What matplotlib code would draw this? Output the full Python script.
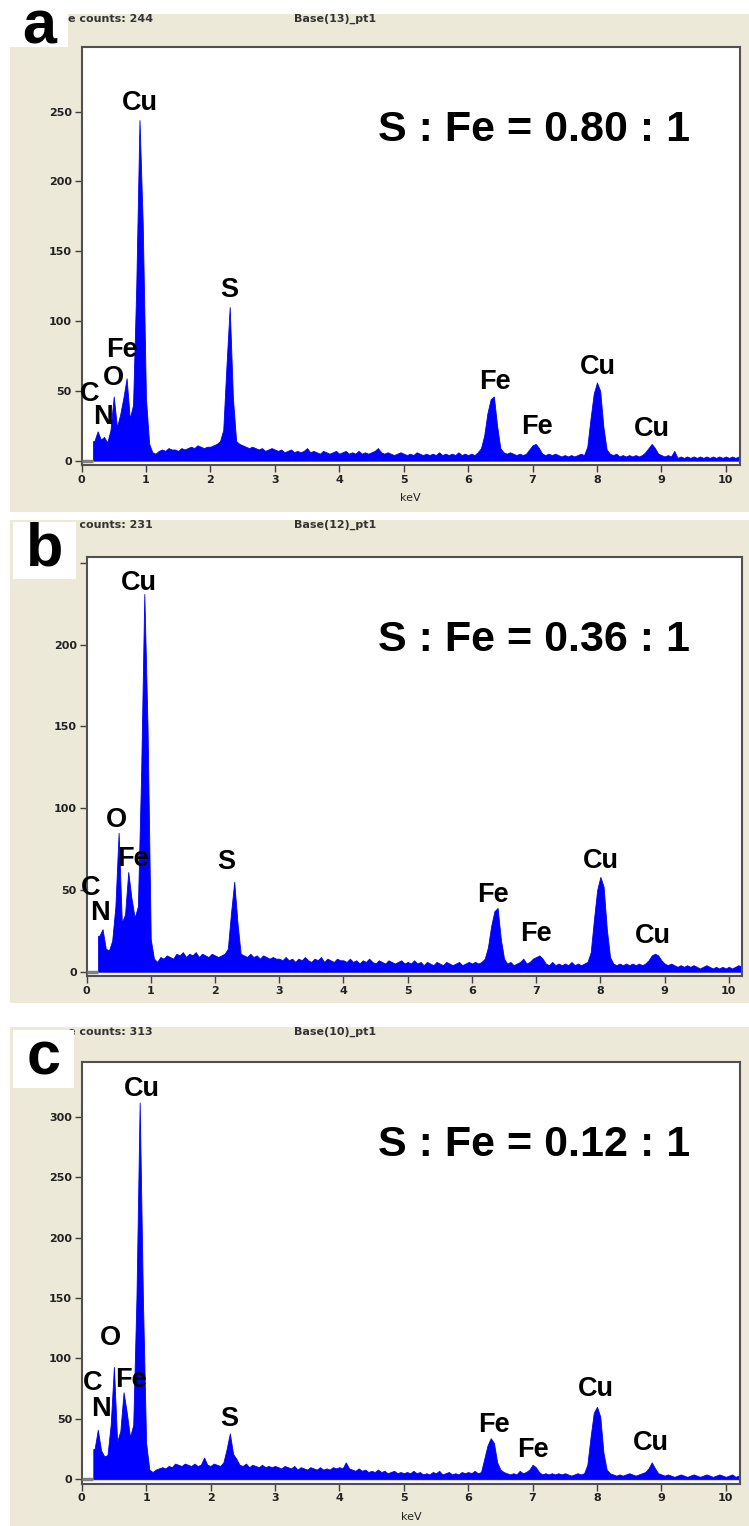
import numpy as np
import matplotlib
matplotlib.use("Agg")
import matplotlib.pyplot as plt
from matplotlib.patches import Rectangle

# EDS spectra, counts per 0.05 keV channel, 0.00 - 10.20 keV
energy_kev = np.round(np.arange(205) * 0.05, 2)

counts_a = [
    0, 0, 0, 0, 14, 21, 15, 17, 13, 22, 46, 24, 33, 45, 59, 30, 40, 125, 244, 170,
    45, 12, 6, 5, 7, 8, 7, 9, 8, 8, 7, 9, 8, 9, 10, 9, 11, 10, 9, 10,
    10, 11, 12, 14, 22, 68, 110, 45, 14, 12, 11, 10, 9, 10, 9, 8, 9, 7, 8, 9,
    8, 7, 8, 6, 7, 8, 6, 7, 6, 7, 9, 6, 7, 6, 5, 7, 6, 5, 6, 7,
    5, 6, 7, 5, 6, 5, 7, 5, 6, 5, 6, 7, 9, 6, 5, 6, 5, 4, 5, 6,
    5, 4, 5, 4, 6, 5, 4, 5, 4, 5, 4, 6, 4, 5, 4, 5, 4, 6, 4, 5,
    4, 5, 4, 6, 9, 18, 34, 44, 46, 25, 9, 6, 5, 6, 5, 4, 5, 4, 5, 8,
    11, 12, 9, 5, 4, 5, 4, 5, 4, 3, 4, 3, 4, 3, 4, 5, 4, 10, 30, 48,
    56, 50, 24, 8, 5, 4, 5, 3, 4, 3, 4, 3, 4, 3, 4, 6, 9, 12, 9, 5,
    4, 3, 4, 3, 7, 2, 3, 2, 3, 2, 3, 2, 3, 2, 3, 2, 3, 2, 3, 2,
    3, 2, 3, 2, 3,
]
counts_b = [
    0, 0, 0, 0, 22, 26, 14, 13, 19, 40, 85, 30, 35, 61, 45, 33, 40, 120, 231, 150,
    20, 8, 6, 9, 8, 10, 9, 8, 11, 10, 12, 9, 11, 10, 12, 9, 11, 10, 9, 11,
    10, 9, 10, 11, 14, 36, 55, 30, 11, 10, 9, 11, 9, 10, 8, 10, 9, 8, 9, 8,
    8, 7, 9, 7, 8, 6, 8, 7, 9, 7, 6, 8, 7, 9, 6, 8, 7, 6, 8, 7,
    7, 6, 8, 6, 7, 5, 7, 6, 8, 6, 5, 7, 6, 5, 7, 6, 5, 6, 7, 5,
    6, 5, 7, 5, 6, 4, 6, 5, 4, 6, 5, 4, 6, 5, 4, 5, 6, 4, 5, 6,
    5, 6, 5, 6, 8, 15, 28, 37, 39, 20, 8, 5, 6, 4, 5, 6, 8, 5, 6, 8,
    9, 10, 8, 5, 4, 6, 4, 5, 4, 5, 4, 6, 4, 5, 4, 5, 6, 12, 32, 50,
    58, 52, 26, 9, 5, 4, 5, 4, 5, 4, 5, 4, 5, 4, 5, 7, 10, 11, 10, 7,
    5, 4, 5, 4, 3, 4, 3, 4, 3, 4, 3, 2, 3, 4, 3, 2, 3, 2, 3, 2,
    3, 2, 3, 4, 3,
]
counts_c = [
    0, 0, 0, 0, 25, 41, 24, 19, 20, 45, 93, 31, 40, 72, 55, 35, 45, 150, 312, 150,
    30, 8, 6, 8, 9, 10, 9, 11, 10, 13, 12, 11, 13, 12, 11, 13, 11, 12, 18, 12,
    11, 13, 12, 11, 14, 25, 38, 21, 17, 12, 11, 13, 10, 12, 11, 10, 12, 10, 11, 10,
    11, 10, 9, 11, 10, 9, 11, 8, 10, 9, 8, 10, 9, 8, 10, 8, 9, 8, 10, 9,
    10, 9, 14, 9, 8, 7, 9, 7, 8, 6, 7, 6, 8, 6, 7, 5, 6, 7, 5, 6,
    5, 6, 5, 7, 5, 6, 4, 5, 4, 6, 5, 7, 4, 5, 6, 4, 5, 4, 6, 5,
    6, 5, 7, 5, 6, 17, 28, 34, 30, 14, 8, 6, 5, 4, 5, 4, 7, 5, 6, 8,
    12, 10, 6, 4, 5, 4, 5, 4, 5, 4, 5, 4, 3, 4, 5, 4, 5, 12, 35, 55,
    60, 52, 22, 8, 5, 4, 3, 4, 3, 4, 5, 4, 3, 4, 5, 6, 9, 14, 9, 5,
    4, 3, 4, 3, 2, 3, 4, 3, 2, 3, 4, 3, 2, 3, 4, 3, 2, 3, 4, 3,
    2, 3, 4, 2, 3,
]

panel_letters = ["a", "b", "c"]
max_counts = [244, 231, 313]
base_names = ["Base(13)_pt1", "Base(12)_pt1", "Base(10)_pt1"]
ratio_texts = ["S : Fe = 0.80 : 1", "S : Fe = 0.36 : 1", "S : Fe = 0.12 : 1"]
y_ticks = [[0, 50, 100, 150, 200, 250],
           [0, 50, 100, 150, 200, 250],
           [0, 50, 100, 150, 200, 250, 300]]
# the 250 label of panel b sits under the "b" patch
y_ticklabels = [["0", "50", "100", "150", "200", "250"],
                ["0", "50", "100", "150", "200", ""],
                ["0", "50", "100", "150", "200", "250", "300"]]

# element labels: (text, keV, counts)
labels_a = [("Cu", 0.91, 256), ("S", 2.30, 122), ("Fe", 0.63, 79), ("O", 0.49, 59),
            ("C", 0.13, 48), ("N", 0.34, 31), ("Fe", 6.41, 56), ("Fe", 7.07, 24),
            ("Cu", 8.02, 67), ("Cu", 8.86, 23)]
labels_b = [("Cu", 0.81, 238), ("O", 0.46, 93), ("Fe", 0.72, 69), ("C", 0.06, 51),
            ("N", 0.21, 36), ("S", 2.18, 67), ("Fe", 6.32, 47), ("Fe", 6.99, 23),
            ("Cu", 8.00, 68), ("Cu", 8.82, 22)]
labels_c = [("Cu", 0.94, 323), ("O", 0.45, 117), ("Fe", 0.77, 82), ("C", 0.17, 80),
            ("N", 0.30, 58), ("S", 2.29, 50), ("Fe", 6.40, 45), ("Fe", 7.01, 24),
            ("Cu", 7.99, 75), ("Cu", 8.84, 30)]

spectra = [counts_a, counts_b, counts_c]
all_labels = [labels_a, labels_b, labels_c]
show_xlabel = [True, False, True]

W, H = 749, 1526
BEIGE = "#ECE9D8"

# pixel layout of each panel: beige frame, axes box, letter box
frames = [(10, 14, 749, 512), (10, 520, 749, 1003), (10, 1027, 749, 1526)]
boxes = [(81.5, 47, 740, 465), (86.5, 557, 741.7, 976), (81.7, 1062, 740, 1483.5)]
ylims = [(-3.1, 296.3), (-2.6, 253.6), (-3.5, 345.5)]
xmax = [10.22, 10.2, 10.22]
letter_boxes = [(10, 8, 68, 47), (13, 522, 76, 579), (13, 1030, 74, 1088)]

fig = plt.figure(figsize=(W / 100, H / 100), dpi=100)
fig.patch.set_facecolor("white")


def fx(x):
    return x / W


def fy(y):
    return 1 - y / H


lab_font = ["Liberation Sans", "DejaVu Sans"]

for i in range(3):
    l, t, r, b = frames[i]
    fig.add_artist(Rectangle((fx(l), fy(b)), fx(r - l), (b - t) / H,
                             transform=fig.transFigure, facecolor=BEIGE,
                             edgecolor="none", zorder=0))

    l, t, r, b = boxes[i]
    ax = fig.add_axes([fx(l), fy(b), fx(r - l), (b - t) / H])
    ax.set_facecolor("white")
    counts = np.array(spectra[i])
    start = np.argmax(counts > 0)
    # spectrum: vertical rise where counting starts, then channel to channel
    xs = np.concatenate([[energy_kev[start] - 0.02], energy_kev[start:]])
    ys = np.concatenate([[counts[start]], counts[start:]])
    ax.fill_between(xs, ys, 0, color="#0000FF", lw=0.6, edgecolor="#0000FF",
                    zorder=2)
    ax.plot([0, energy_kev[start] - 0.02], [0, 0], color="#808080", lw=2.5,
            solid_capstyle="butt", zorder=3)
    ax.set_xlim(0, xmax[i])
    ax.set_ylim(*ylims[i])
    ax.set_xticks(range(11))
    ax.set_yticks(y_ticks[i])
    ax.set_yticklabels(y_ticklabels[i])
    ax.tick_params(direction="out", length=5, width=1, color="#404040",
                   labelsize=8, labelcolor="#222222", pad=2)
    for lbl in ax.get_xticklabels() + ax.get_yticklabels():
        lbl.set_fontweight("bold")
    for s in ax.spines.values():
        s.set_color("#505050")
        s.set_linewidth(1.5)
    if show_xlabel[i]:
        ax.set_xlabel("keV", fontsize=8, color="#222222", labelpad=6)

    for txt, xk, yc in all_labels[i]:
        ax.text(xk, yc, txt, ha="center", va="center", fontsize=19.5,
                fontweight="bold", family=lab_font, zorder=4)

    # header line above plot box
    hy = frames[i][1] + 5
    fig.text(fx(68), fy(hy), "e counts: %d" % max_counts[i], ha="left",
             va="center", fontsize=8, fontweight="bold", color="#333333")
    fig.text(fx(335), fy(hy), base_names[i], ha="center", va="center",
             fontsize=8, fontweight="bold", color="#333333")

    # S : Fe ratio
    fig.text(fx(534), fy(t + 83), ratio_texts[i], ha="center", va="center",
             fontsize=31, fontweight="bold", family=lab_font)

    # panel letter on white patch
    l, t, r, b = letter_boxes[i]
    fig.add_artist(Rectangle((fx(l), fy(b)), fx(r - l), (b - t) / H,
                             transform=fig.transFigure, facecolor="white",
                             edgecolor="none", zorder=5))
    fig.text(fx((l + r) / 2), fy((t + b) / 2), panel_letters[i], ha="center",
             va="center", fontsize=44, fontweight="bold", family=lab_font,
             zorder=6)

fig.savefig("out.png", dpi=100)
